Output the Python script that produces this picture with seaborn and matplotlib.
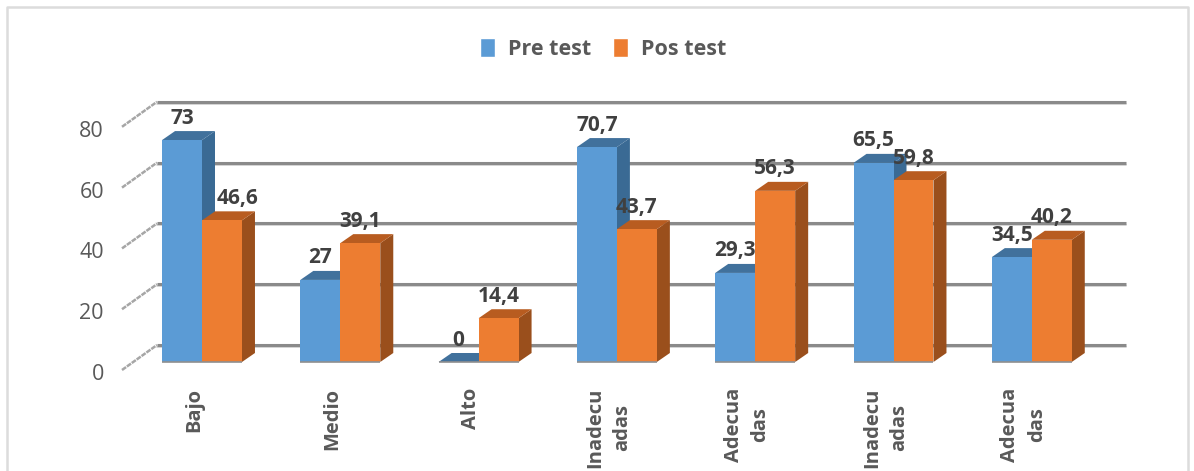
import numpy as np
import pandas as pd

import matplotlib
matplotlib.use('Agg')
import matplotlib.pyplot as plt
import matplotlib.transforms as mtrans
from matplotlib.lines import Line2D
from matplotlib.patches import Polygon
import seaborn as sns

categories = ['Bajo', 'Medio', 'Alto', 'Inadecu\nadas', 'Adecua\ndas', 'Inadecu\nadas', 'Adecua\ndas']
pre_test = [73, 27, 0, 70.7, 29.3, 65.5, 34.5]
pos_test = [46.6, 39.1, 14.4, 43.7, 56.3, 59.8, 40.2]
series_names = ['Pre test', 'Pos test']
y_ticks = [0, 20, 40, 60, 80]

sns.set_style('white')
plt.rcParams['font.family'] = ['Open Sans', 'DejaVu Sans']

W, H = 1194, 471
PX_X = 1 / 138.3   # one pixel in category units
PX_Y = 1 / 3.04    # one pixel in value units

pos = list(range(len(categories)))
data = pd.DataFrame({
    'pos': pos * 2,
    'value': pre_test + pos_test,
    'test': [series_names[0]] * len(pos) + [series_names[1]] * len(pos),
})

fig = plt.figure(figsize=(W / 100, H / 100), dpi=100)
ax = fig.add_axes([122 / W, (H - 362) / H, (1126 - 122) / W, 262 / H])
sns.barplot(data=data, x='pos', y='value', hue='test', order=pos, hue_order=series_names,
            palette=['#5B9BD5', '#ED7D31'], width=0.578, gap=0, saturation=1, errorbar=None, ax=ax)
ax.set_xlim(-80 * PX_X, 924 * PX_X)
ax.set_ylim(0, 262 * PX_Y)
ax.set_xlabel('')
ax.set_ylabel('')
sns.despine(ax=ax, left=True, bottom=True)

# back wall lines and the dashed diagonals that run to the value labels
wall_dx, wall_dy = 35 * PX_X, 17 * PX_Y
x_front = ax.get_xlim()[0]
for v in y_ticks:
    y_wall = v + wall_dy
    ax.plot([x_front + wall_dx, ax.get_xlim()[1]], [y_wall, y_wall], color='#8a8a8a', lw=2.2, zorder=1,
            solid_capstyle='butt', clip_on=False)
    ax.plot([x_front + wall_dx, ax.get_xlim()[1]], [y_wall - 2 * PX_Y] * 2, color='#cfcfcf', lw=1.2, zorder=0.9,
            clip_on=False)
    ax.plot([x_front, x_front + wall_dx], [v - 8 * PX_Y, y_wall], color='#a6a6a6', lw=1.8, ls=(0, (2, 0.4)),
            zorder=1, clip_on=False)

# fake depth on each bar
depth_x, depth_y = 13 * PX_X, 9 * PX_Y
shades = [('#3A6A94', '#41719C'), ('#9A4F1C', '#B85C20')]
for s, container in enumerate(ax.containers):
    side_col, top_col = shades[s]
    for bar in container:
        x0, w, h = bar.get_x(), bar.get_width(), bar.get_height()
        x1 = x0 + w
        bar.set_zorder(3 + 2 * s)
        bar.set_edgecolor('none')
        ax.add_patch(Polygon([(x1, 0), (x1 + depth_x, depth_y), (x1 + depth_x, h + depth_y), (x1, h)],
                             facecolor=side_col, edgecolor='none', zorder=2 + 2 * s, clip_on=False))
        ax.add_patch(Polygon([(x0, h), (x0 + depth_x, h + depth_y), (x1 + depth_x, h + depth_y), (x1, h)],
                             facecolor=top_col, edgecolor='none', zorder=2 + 2 * s, clip_on=False))
        # soft grey line along the foot of the bar
        ax.plot([x0, x1], [0, 0], color='#8f8f8f', lw=1.2, zorder=8, clip_on=False, solid_capstyle='butt')

        # value label, comma decimals; 46,6 sits off to the right in the original
        txt = ('%g' % h).replace('.', ',')
        nudge = 16 if h == 46.6 else 0
        ax.annotate(txt, (x0 + w / 2, h), xytext=(nudge * 0.72, 22 * 0.72), textcoords='offset points',
                    ha='center', va='center', fontsize=15, fontweight='bold', color='#404040',
                    zorder=9, annotation_clip=False)

ax.set_yticks(y_ticks)
ax.set_yticklabels([str(v) for v in y_ticks], fontsize=15.5, color='#595959')
ax.set_xticks(pos)
ax.set_xticklabels(categories, rotation=90, fontsize=14.5, fontweight='bold', color='#595959',
                   ha='center', va='top', linespacing=1.45)
ax.tick_params(axis='both', length=0)
ax.tick_params(axis='x', pad=18.5)
ax.tick_params(axis='y', pad=13)
for lab in ax.get_yticklabels():
    lab.set_transform(lab.get_transform() + mtrans.ScaledTranslation(0, -10 / 100, fig.dpi_scale_trans))
for lab in ax.get_xticklabels():
    lab.set_transform(lab.get_transform() + mtrans.ScaledTranslation(-8 / 100, 0, fig.dpi_scale_trans))

sns.move_legend(ax, 'center', bbox_to_anchor=(603 / W, 1 - 49 / H), bbox_transform=fig.transFigure,
                ncol=2, frameon=False, title=None, handlelength=0.7, handleheight=1.0,
                handletextpad=0.6, columnspacing=1.0, labelcolor='#595959',
                prop={'family': 'Open Sans', 'weight': 'bold', 'size': 15.5})

# light border of the chart area, open at the bottom
border = '#dcdcdc'
fig.add_artist(Line2D([7 / W, 7 / W, 1188 / W, 1188 / W], [0, 1 - 7 / H, 1 - 7 / H, 0], color=border, lw=1.8))

fig.savefig('out.png', dpi=100)
plt.close()
